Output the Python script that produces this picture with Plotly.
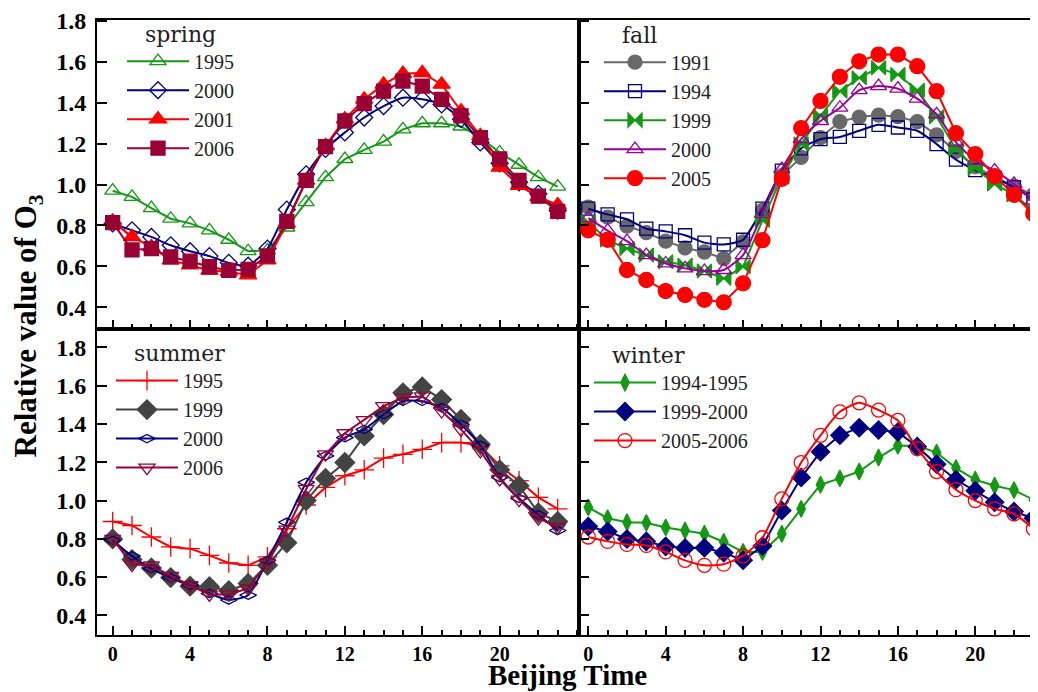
import plotly.graph_objects as go

hours = list(range(24))

# ---------------- data ----------------
spring_labels = ["1995", "2000", "2001", "2006"]
spring_1995 = [0.97, 0.94, 0.885, 0.833, 0.81, 0.776, 0.73, 0.674, 0.678, 0.79, 0.914, 1.036,
               1.125, 1.17, 1.21, 1.27, 1.30, 1.30, 1.284, 1.23, 1.157, 1.097, 1.036, 0.99]
spring_2000 = [0.81, 0.776, 0.744, 0.703, 0.674, 0.65, 0.617, 0.603, 0.687, 0.878, 1.05, 1.174,
               1.255, 1.328, 1.384, 1.425, 1.417, 1.392, 1.32, 1.206, 1.104, 1.011, 0.955, 0.873]
spring_2001 = [0.82, 0.744, 0.695, 0.63, 0.606, 0.58, 0.574, 0.557, 0.63, 0.81, 1.02, 1.19,
               1.32, 1.417, 1.49, 1.543, 1.546, 1.49, 1.36, 1.238, 1.084, 0.995, 0.94, 0.90]
spring_2006 = [0.814, 0.68, 0.687, 0.646, 0.625, 0.598, 0.58, 0.585, 0.651, 0.82, 1.02, 1.186,
               1.311, 1.396, 1.457, 1.506, 1.482, 1.417, 1.336, 1.23, 1.125, 1.02, 0.943, 0.869]

fall_labels = ["1991", "1994", "1999", "2000", "2005"]
fall_1991 = [0.89, 0.841, 0.797, 0.765, 0.723, 0.69, 0.67, 0.638, 0.72, 0.874, 1.044, 1.133,
             1.23, 1.308, 1.33, 1.34, 1.332, 1.308, 1.243, 1.162, 1.088, 1.036, 0.992, 0.95]
fall_1994 = [0.882, 0.854, 0.83, 0.784, 0.771, 0.752, 0.716, 0.707, 0.73, 0.882, 1.068, 1.177,
             1.222, 1.233, 1.263, 1.292, 1.279, 1.263, 1.198, 1.122, 1.071, 1.032, 0.987, 0.927]
fall_1999 = [0.817, 0.728, 0.687, 0.655, 0.622, 0.606, 0.577, 0.541, 0.598, 0.825, 1.036, 1.198,
             1.336, 1.457, 1.522, 1.571, 1.538, 1.462, 1.332, 1.174, 1.08, 1.003, 0.95, 0.873]
fall_2000 = [0.836, 0.775, 0.723, 0.655, 0.614, 0.59, 0.577, 0.582, 0.655, 0.857, 1.076, 1.222,
             1.311, 1.376, 1.462, 1.482, 1.469, 1.42, 1.344, 1.206, 1.117, 1.068, 1.003, 0.922]
fall_2005 = [0.776, 0.73, 0.582, 0.533, 0.479, 0.46, 0.436, 0.424, 0.517, 0.728, 1.028, 1.276,
             1.409, 1.527, 1.603, 1.636, 1.636, 1.579, 1.457, 1.251, 1.149, 1.041, 0.95, 0.857]

summer_labels = ["1995", "1999", "2000", "2006"]
summer_1995 = [0.891, 0.87, 0.81, 0.758, 0.749, 0.714, 0.674, 0.662, 0.706, 0.853, 0.977, 1.069,
               1.13, 1.161, 1.222, 1.242, 1.268, 1.303, 1.303, 1.286, 1.182, 1.104, 1.017, 0.957]
summer_1999 = [0.80, 0.692, 0.648, 0.598, 0.553, 0.55, 0.529, 0.567, 0.662, 0.78, 1.0, 1.116,
               1.199, 1.338, 1.45, 1.563, 1.594, 1.528, 1.424, 1.294, 1.161, 1.078, 0.936, 0.891]
summer_2000 = [0.792, 0.711, 0.645, 0.597, 0.558, 0.515, 0.481, 0.506, 0.688, 0.887, 1.095, 1.234,
               1.329, 1.372, 1.45, 1.519, 1.519, 1.485, 1.398, 1.289, 1.121, 1.012, 0.926, 0.844]
summer_2006 = [0.80, 0.666, 0.662, 0.607, 0.558, 0.51, 0.51, 0.541, 0.676, 0.849, 1.061, 1.242,
               1.352, 1.421, 1.494, 1.537, 1.545, 1.468, 1.372, 1.26, 1.113, 1.005, 0.908, 0.861]

winter_labels = ["1994-1995", "1999-2000", "2005-2006"]
winter_9495 = [0.965, 0.908, 0.887, 0.884, 0.86, 0.844, 0.827, 0.784, 0.732, 0.732, 0.827, 0.957,
               1.083, 1.116, 1.152, 1.225, 1.286, 1.286, 1.251, 1.17, 1.109, 1.078, 1.055, 1.005]
winter_9900 = [0.865, 0.839, 0.80, 0.787, 0.761, 0.752, 0.754, 0.728, 0.688, 0.763, 0.948, 1.121,
               1.255, 1.341, 1.381, 1.369, 1.358, 1.282, 1.19, 1.109, 1.052, 0.991, 0.943, 0.908]
winter_0506 = [0.81, 0.787, 0.771, 0.766, 0.732, 0.688, 0.662, 0.668, 0.711, 0.806, 1.009, 1.199,
               1.341, 1.464, 1.511, 1.473, 1.419, 1.272, 1.152, 1.057, 1.0, 0.957, 0.931, 0.853]

x_ticks = [0, 4, 8, 12, 16, 20]
y_ticks = [0.4, 0.6, 0.8, 1.0, 1.2, 1.4, 1.6, 1.8]
season_titles = ["spring", "fall", "summer", "winter"]

# ---------------- styles ----------------
GREEN = "#139913"
NAVY = "#00007f"
RED = "#ff0000"
MAROON = "#990033"
GRAY = "#686868"
DGRAY = "#444444"
PURPLE = "#990099"

WIN_W, WIN_H = 1038, 692
BODY = 8                     # default page margin of the html body
W = WIN_W - BODY
H = WIN_H - BODY
# plot area in window pixels: x 97..1038, y 17..635
ML, MR, MT, MB = 97 - BODY, 0, 17 - BODY, WIN_H - 635
PW = W - ML - MR
PH = H - MT - MB
XDIV = (579 - 97) / PW
YDIV = (635 - 328) / PH


def px(xp):
    return (xp - 97) / PW


def py(yp):
    return (635 - yp) / PH


fig = go.Figure()


def add(x, y, name, color, symbol, size, xa, ya, legend, shape="linear", lw=2):
    mk = dict(symbol=symbol, size=size, color=color, line=dict(color=color, width=1.3))
    fig.add_trace(go.Scatter(
        x=x, y=y, name=name, mode="lines+markers",
        line=dict(color=color, width=lw, shape=shape, smoothing=0.6),
        marker=mk, xaxis=xa, yaxis=ya, legend=legend,
    ))


# spring (top-left)
add(hours, spring_1995, spring_labels[0], GREEN, "triangle-up-open", 14, "x", "y", "legend")
add(hours, spring_2000, spring_labels[1], NAVY, "diamond-open", 13, "x", "y", "legend", shape="spline")
add(hours, spring_2001, spring_labels[2], RED, "triangle-up", 15, "x", "y", "legend")
add(hours, spring_2006, spring_labels[3], MAROON, "square", 14, "x", "y", "legend")

# fall (top-right)
add(hours, fall_1991, fall_labels[0], GRAY, "circle", 14, "x2", "y2", "legend2")
add(hours, fall_1994, fall_labels[1], NAVY, "square-open", 13, "x2", "y2", "legend2", shape="spline")
add(hours, fall_1999, fall_labels[2], GREEN, "bowtie", 14, "x2", "y2", "legend2")
add(hours, fall_2000, fall_labels[3], PURPLE, "triangle-up-open", 14, "x2", "y2", "legend2", shape="spline")
add(hours, fall_2005, fall_labels[4], RED, "circle", 15, "x2", "y2", "legend2")

# summer (bottom-left)
add(hours, summer_1995, summer_labels[0], RED, "cross-thin", 14, "x3", "y3", "legend3")
add(hours, summer_1999, summer_labels[1], DGRAY, "diamond", 15, "x3", "y3", "legend3")
add(hours, summer_2000, summer_labels[2], NAVY, "diamond-wide-open", 12, "x3", "y3", "legend3", shape="spline")
add(hours, summer_2006, summer_labels[3], MAROON, "triangle-down-open", 14, "x3", "y3", "legend3")

# winter (bottom-right)
add(hours, winter_9495, winter_labels[0], GREEN, "diamond-tall", 12, "x4", "y4", "legend4")
add(hours, winter_9900, winter_labels[1], NAVY, "diamond", 14, "x4", "y4", "legend4")
add(hours, winter_0506, winter_labels[2], RED, "circle-open", 14, "x4", "y4", "legend4", shape="spline")

tickfont_y = dict(family="Liberation Serif", size=24, color="black", weight="bold")
tickfont_x = dict(family="Liberation Serif", size=20, color="black", weight="bold")


def xaxis(domain, rng, anchor, labels):
    return dict(domain=domain, range=rng, anchor=anchor, showline=True, linecolor="black",
                linewidth=2, mirror=True, ticks="inside", ticklen=9, tickwidth=2,
                tickcolor="black", tickvals=x_ticks, showticklabels=labels,
                tickfont=tickfont_x, showgrid=False, zeroline=False,
                ticklabeloverflow="allow",
                minor=dict(ticks="inside", ticklen=5, tickwidth=2, tickcolor="black",
                           dtick=1, tick0=0, showgrid=False))


def yaxis(domain, rng, anchor, labels, mirror):
    return dict(domain=domain, range=rng, anchor=anchor, showline=True, linecolor="black",
                linewidth=2, mirror=mirror, ticks="inside", ticklen=10, tickwidth=2,
                tickcolor="black", tickvals=y_ticks, tickformat=".1f", showticklabels=labels,
                tickfont=tickfont_y, showgrid=False, zeroline=False,
                ticklabeloverflow="allow", ticklabelstandoff=4)


top_rng = [0.291, 1.805]
bot_rng = [0.298, 1.894]
left_x = [-0.81, 24.1]
right_x = [-0.48, 23.24]

legend_common = dict(bgcolor="rgba(0,0,0,0)", borderwidth=0, xanchor="left", yanchor="top",
                     font=dict(family="Liberation Serif", size=20, color="#222222"),
                     itemwidth=62, tracegroupgap=0, itemsizing="trace")
title_font = dict(family="DejaVu Serif", size=22, color="#222222")
pad = "\u00a0\u00a0\u00a0"

fig.update_layout(
    width=W, height=H,
    margin=dict(l=ML, r=MR, t=MT, b=MB, pad=0),
    paper_bgcolor="white", plot_bgcolor="white",
    showlegend=True,
    xaxis=xaxis([0, XDIV], left_x, "y", False),
    yaxis=yaxis([YDIV, 1], top_rng, "x", True, True),
    xaxis2=xaxis([XDIV, 1], right_x, "y2", False),
    yaxis2=yaxis([YDIV, 1], top_rng, "x2", False, False),
    xaxis3=xaxis([0, XDIV], left_x, "y3", True),
    yaxis3=yaxis([0, YDIV], bot_rng, "x3", True, True),
    xaxis4=xaxis([XDIV, 1], right_x, "y4", True),
    yaxis4=yaxis([0, YDIV], bot_rng, "x4", False, False),
    legend=dict(x=px(122), y=py(10), title=dict(text=pad + season_titles[0], font=title_font), **legend_common),
    legend2=dict(x=px(599), y=py(11), title=dict(text=pad + season_titles[1], font=title_font), **legend_common),
    legend3=dict(x=px(111), y=py(331), title=dict(text=pad + season_titles[2], font=title_font), **legend_common),
    legend4=dict(x=px(589), y=py(333), title=dict(text=pad + season_titles[3], font=title_font), **legend_common),
    annotations=[
        dict(text="Relative value of O<sub>3</sub>", xref="paper", yref="paper",
             x=px(28), y=py(325), xanchor="center", yanchor="middle", textangle=-90,
             showarrow=False, font=dict(family="Liberation Serif", size=31, color="black", weight="bold")),
        dict(text="Beijing Time", xref="paper", yref="paper",
             x=px(567), y=py(675), xanchor="center", yanchor="middle",
             showarrow=False, font=dict(family="Liberation Serif", size=29, color="black", weight="bold")),
    ],
)

fig.write_html("out.html")
